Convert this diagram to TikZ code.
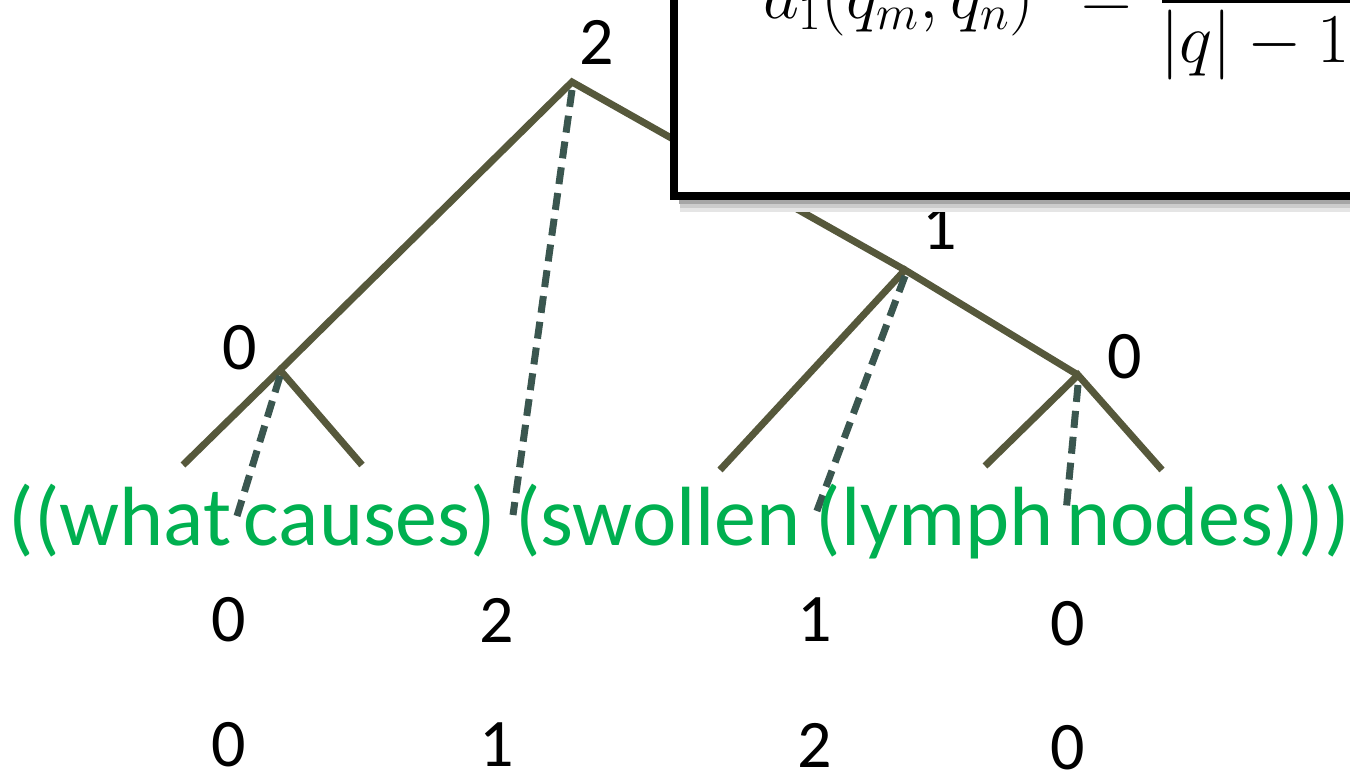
\RequirePackage{fix-cm}
\documentclass[tikz,border=0pt]{standalone}
\usepackage[no-math]{fontspec}
\newfontfamily\gs{Carlito}
\definecolor{branch}{HTML}{56583B}
\definecolor{dash}{HTML}{3A564F}
\definecolor{wgreen}{HTML}{00B050}
\tikzset{
  branchline/.style={draw=branch, line width=7pt},
  dashline/.style={draw=dash, line width=7pt, dash pattern=on 17pt off 9pt},
  num/.style={font=\gs\fontsize{68}{80}\selectfont, inner sep=0pt},
  word/.style={font=\gs\fontsize{84}{96}\selectfont, text=wgreen, inner sep=0pt, anchor=base},
  mathtxt/.style={font=\fontsize{70}{84}\selectfont, inner sep=0pt, anchor=base west}
}
\begin{document}
\begin{tikzpicture}[x=1pt,y=-1pt]
\useasboundingbox (0,0) rectangle (1350,773);
\clip (0,0) rectangle (1350,773);
% tree vertices
\coordinate (r) at (572,82);
\coordinate (a) at (280,370);
\coordinate (b) at (905,270);
\coordinate (c) at (1078,375);
\coordinate (a1) at (183,465);
\coordinate (a2) at (362,465);
\coordinate (b1) at (720,470);
\coordinate (c1) at (985,466);
\coordinate (c2) at (1162,470);
\coordinate (da) at (237,516);
\coordinate (dr) at (513,515);
\coordinate (db) at (815,516);
\coordinate (dc) at (1066,512);
% solid branches
\draw[branchline] (a1) -- (a) -- (a2);
\draw[branchline] (a) -- (r) -- (b);
\draw[branchline] (b1) -- (b) -- (c);
\draw[branchline] (c1) -- (c) -- (c2);
% dashed links
\draw[dashline] ([yshift=-6pt]a) -- (da);
\draw[dashline] ([yshift=-8pt]r) -- (dr);
\draw[dashline] ([yshift=-6pt]b) -- (db);
\draw[dashline] ([yshift=-10pt]c) -- (dc);
% node labels
\node[num] (lr) at (597,42) {2};
\node[num] (la) at (240,348) {0};
\node[num] (lb) at (940,228) {1};
\node[num] (lc) at (1125,357) {0};
% words
\node[word] (w1) at (120,545) {((what};
\node[word] (w2) at (370,545) {causes)};
\node[word] (w3) at (658,545) {(swollen};
\node[word] (w4) at (935,545) {(lymph};
\node[word] (w5) at (1208,545) {nodes)))};
% rows of numbers
\node[num] (p1) at (229,620) {0};
\node[num] (p2) at (497,620) {2};
\node[num] (p3) at (815,620) {1};
\node[num] (p4) at (1068,624) {0};
\node[num] (q1) at (229,745) {0};
\node[num] (q2) at (497,745) {1};
\node[num] (q3) at (815,745) {2};
\node[num] (q4) at (1068,748) {0};
% formula box with soft shadow
\fill[black!10] (680,-60) rectangle (1420,212);
\fill[black!20] (680,-60) rectangle (1420,208);
\fill[black!35] (679,-60) rectangle (1420,204);
\draw[line width=8pt, fill=white] (674,-60) rectangle (1420,196);
\node[mathtxt] (f1) at (763,19) {$d_1(q_m,q_n)$};
\node[mathtxt] (f2) at (1081,19) {$=$};
\draw[line width=3pt] (1162,1.5) -- (1400,1.5);
\node[mathtxt] (f3) at (1160,63) {$|q|-1$};
\end{tikzpicture}
\end{document}
